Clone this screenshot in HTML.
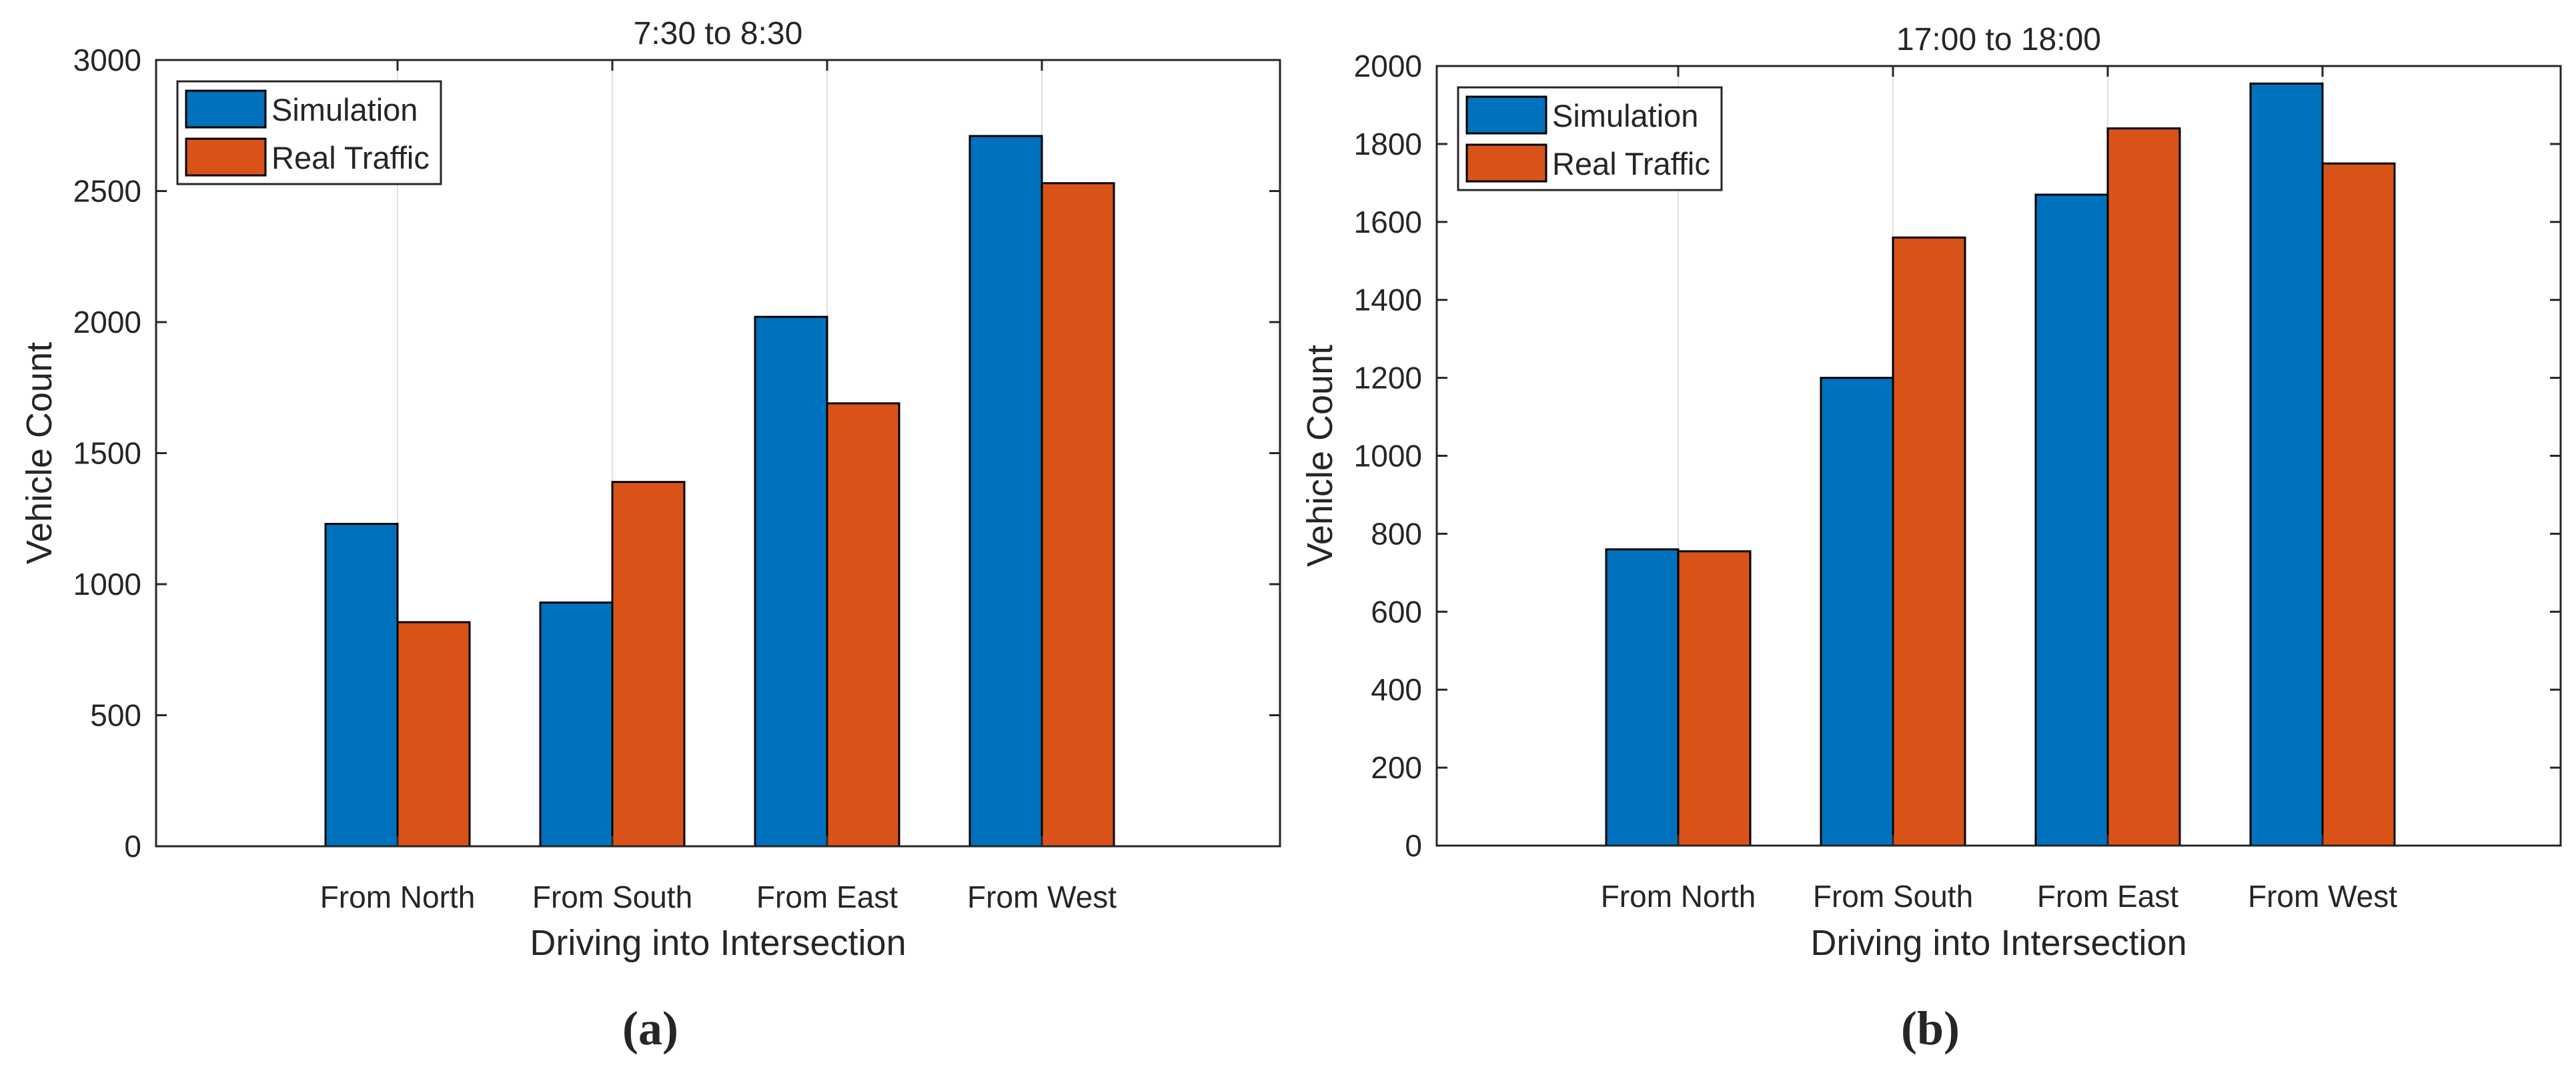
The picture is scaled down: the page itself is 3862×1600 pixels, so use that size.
<!DOCTYPE html>
<html><head><meta charset="utf-8"><style>
html,body{margin:0;padding:0;background:#fff}
svg{display:block}
text{font-family:"Liberation Sans",Arial,sans-serif;fill:#262626}
</style></head><body>
<svg id="fig" width="3862" height="1600" viewBox="0 0 3862 1600" xmlns="http://www.w3.org/2000/svg"></svg>
<script>
const categories = ["From North","From South","From East","From West"];
const simA = [1230, 930, 2020, 2710];
const realA = [855, 1390, 1690, 2530];
const ticksA = [0,500,1000,1500,2000,2500,3000];
const simB = [760, 1200, 1670, 1955];
const realB = [755, 1560, 1840, 1750];
const ticksB = [0,200,400,600,800,1000,1200,1400,1600,1800,2000];
const seriesNames = ["Simulation","Real Traffic"];

const NS="http://www.w3.org/2000/svg";
const svg=document.getElementById('fig');
function mk(tag,attrs,parent){const e=document.createElementNS(NS,tag);for(const k in attrs)e.setAttribute(k,attrs[k]);(parent||svg).appendChild(e);return e;}

function panel(cfg){
  const g=mk('g',{});
  
  
  const L=cfg.left,T=cfg.top,R=cfg.left+1685,B=cfg.bottom;
  const ymax=cfg.ticks[cfg.ticks.length-1];
  const y=v=>B-(v/ymax)*(B-T);
  const x=i=>L+362+322*i;
  const bw=108;
  categories.forEach((c,i)=>{
    const l=mk('line',{x1:x(i),x2:x(i),y1:T,y2:B,stroke:'#e0e0e0','stroke-width':2},g);
    
    
  });
  categories.forEach((c,i)=>{
    const b1=mk('rect',{x:x(i)-bw,y:y(cfg.sim[i]),width:bw,height:B-y(cfg.sim[i]),fill:'#0072BD',stroke:'#000','stroke-width':3},g);
    
    
    const b2=mk('rect',{x:x(i),y:y(cfg.real[i]),width:bw,height:B-y(cfg.real[i]),fill:'#D95319',stroke:'#000','stroke-width':3},g);
    
    
  });
  const box=mk('rect',{x:L,y:T,width:R-L,height:B-T,fill:'none',stroke:'#262626','stroke-width':3},g);
  
  
  cfg.ticks.forEach(t=>{
    mk('line',{x1:L,x2:L+16,y1:y(t),y2:y(t),stroke:'#262626','stroke-width':3},g);
    mk('line',{x1:R,x2:R-16,y1:y(t),y2:y(t),stroke:'#262626','stroke-width':3},g);
    const tx=mk('text',{x:L-22,y:y(t)+16,'text-anchor':'end','font-size':46},g);
    tx.textContent=t;
    
    
  });
  categories.forEach((c,i)=>{
    mk('line',{x1:x(i),x2:x(i),y1:B,y2:B-16,stroke:'#262626','stroke-width':3},g);
    mk('line',{x1:x(i),x2:x(i),y1:T,y2:T+16,stroke:'#262626','stroke-width':3},g);
    const tx=mk('text',{x:x(i),y:B+92,'text-anchor':'middle','font-size':46},g);
    tx.textContent=c;
    
    
  });
  const title=mk('text',{x:(L+R)/2,y:cfg.top-24,'text-anchor':'middle','font-size':48,fill:'#000'},g);
  title.textContent=cfg.title;
  
  
  const xl=mk('text',{x:(L+R)/2,y:1432,'text-anchor':'middle','font-size':54},g);
  xl.textContent='Driving into Intersection';
  
  
  const cy=(T+B)/2;
  const yl=mk('text',{x:cfg.left-157,y:cy,'text-anchor':'middle','font-size':54,transform:`rotate(-90 ${cfg.left-157} ${cy})`},g);
  yl.textContent='Vehicle Count';
  
  
  const lg=mk('g',{},g);
  
  
  const lx=L+32,ly=cfg.top+32;
  mk('rect',{x:lx,y:ly,width:395,height:154,fill:'#fff',stroke:'#262626','stroke-width':3},lg);
  const cols=['#0072BD','#D95319'];
  seriesNames.forEach((n,k)=>{
    const sw=mk('rect',{x:lx+13,y:ly+14+72*k,width:119,height:55,fill:cols[k],stroke:'#000','stroke-width':3},lg);
    
    
    const t=mk('text',{x:lx+141,y:ly+59+72*k,'font-size':47,fill:'#000'},lg);
    t.textContent=n;
    
    
  });
  const cap=mk('text',{x:cfg.capX,y:1566,'text-anchor':'middle','font-size':72,'font-weight':'bold',fill:'#000',style:'font-family:"Liberation Serif",serif'},g);
  cap.textContent=cfg.cap;
  
  
}
panel({name:'chart-a',left:234,top:90,bottom:1269,sim:simA,real:realA,ticks:ticksA,title:'7:30 to 8:30',cap:'(a)',capX:975});
panel({name:'chart-b',left:2154,top:99,bottom:1268,sim:simB,real:realB,ticks:ticksB,title:'17:00 to 18:00',cap:'(b)',capX:2894});
</script>
</body></html>
